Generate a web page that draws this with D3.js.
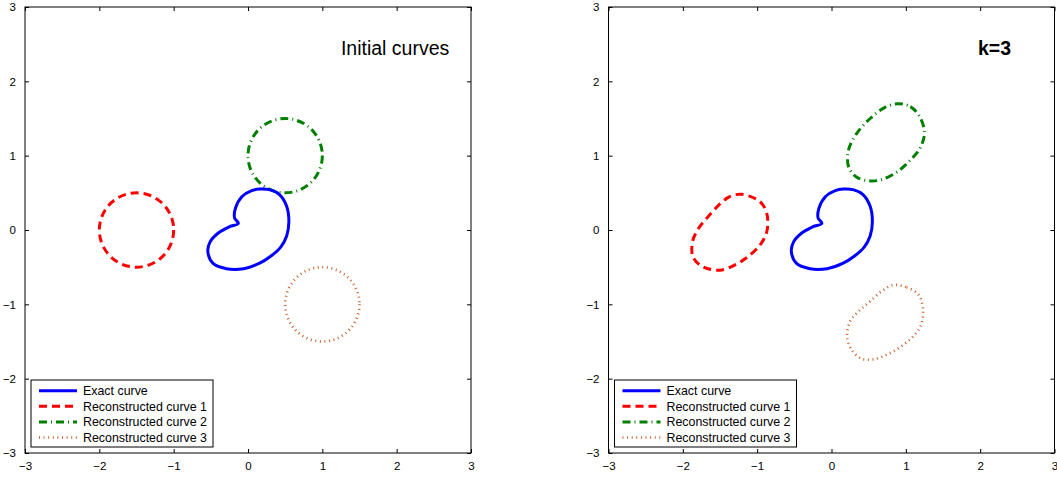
<!DOCTYPE html>
<html>
<head>
<meta charset="utf-8">
<script src="https://cdn.jsdelivr.net/npm/d3@7"></script>
<style>
  body { margin: 0; background: #fff; }
  svg { display: block; font-family: "Liberation Sans", Arial, sans-serif; }
</style>
</head>
<body>
<div id="chart"></div>
<script>
// axis ticks (both axes, both panels)
const ticks = [-3, -2, -1, 0, 1, 2, 3];

// exact curve (kidney shape)
const exactCurve = [
    [0.05, 0.53], [0.16, 0.55], [0.30, 0.54], [0.42, 0.48], [0.52, 0.32], [0.55, 0.11],
    [0.52, -0.08], [0.44, -0.23], [0.31, -0.35], [0.15, -0.45], [-0.06, -0.52], [-0.29, -0.52],
    [-0.47, -0.45], [-0.54, -0.29], [-0.51, -0.16], [-0.40, -0.04], [-0.26, 0.04],
    [-0.13, 0.09], [-0.18, 0.16], [-0.17, 0.29], [-0.08, 0.45]
];

// initial guesses: circles [cx, cy, r]
const initCurve1 = [-1.5, 0, 0.5];
const initCurve2 = [0.5, 1, 0.5];
const initCurve3 = [1, -1, 0.5];

// reconstructions after k=3
const reconCurve1 = [
    [-1.21, 0.48], [-0.96, 0.38], [-0.87, 0.22], [-0.87, -0.02], [-0.96, -0.20],
    [-1.14, -0.37], [-1.30, -0.47], [-1.50, -0.54], [-1.72, -0.50], [-1.86, -0.37],
    [-1.87, -0.16], [-1.79, 0.02], [-1.66, 0.18], [-1.50, 0.35], [-1.37, 0.45]
];
const reconCurve2 = [
    [0.90, 1.70], [1.06, 1.66], [1.19, 1.52], [1.25, 1.30], [1.19, 1.10], [1.06, 0.94],
    [0.88, 0.78], [0.68, 0.68], [0.52, 0.66], [0.34, 0.71], [0.23, 0.85], [0.23, 1.08],
    [0.34, 1.30], [0.52, 1.50], [0.72, 1.65]
];
const reconCurve3 = [
    [0.83, -0.74], [1.01, -0.77], [1.17, -0.87], [1.23, -1.05], [1.21, -1.26], [1.12, -1.41],
    [0.96, -1.55], [0.78, -1.66], [0.56, -1.74], [0.40, -1.73], [0.27, -1.61], [0.21, -1.44],
    [0.25, -1.23], [0.38, -1.08], [0.52, -0.96], [0.68, -0.82]
];

const legendLabels = ['Exact curve', 'Reconstructed curve 1', 'Reconstructed curve 2', 'Reconstructed curve 3'];

const styles = [
    { color: '#0000ff', width: 3, dash: null },
    { color: '#ff0000', width: 3, dash: '8,5' },
    { color: '#008000', width: 3, dash: '8,4,1,4' },
    { color: '#c8602e', width: 2.6, dash: '1,3.6' }
];

const svg = d3.select('#chart').append('svg')
    .attr('width', 1057)
    .attr('height', 479);

const panels = [
    { left: 25, title: 'Initial curves', bold: false, tx: 1.25, circles: [initCurve1, initCurve2, initCurve3] },
    { left: 608.5, title: 'k=3', bold: true, tx: 1.97, curves: [reconCurve1, reconCurve2, reconCurve3] }
];

const plotSize = 446;
const plotTop = 7;

panels.forEach(function (p) {
    const x = d3.scaleLinear().domain([-3, 3]).range([p.left, p.left + plotSize]);
    const y = d3.scaleLinear().domain([-3, 3]).range([plotTop + plotSize, plotTop]);
    const g = svg.append('g');

    // frame
    g.append('rect')
        .attr('x', x(-3)).attr('y', y(3))
        .attr('width', x(3) - x(-3)).attr('height', y(-3) - y(3))
        .attr('fill', 'none').attr('stroke', '#000').attr('stroke-width', 1);

    // axes with inward ticks
    const fmt = d3.format('d');
    const bottom = g.append('g').attr('transform', `translate(0,${y(-3)})`)
        .call(d3.axisBottom(x).tickValues(ticks).tickSizeInner(-4).tickSizeOuter(0).tickPadding(9).tickFormat(fmt));
    g.append('g').attr('transform', `translate(${x(-3)},0)`)
        .call(d3.axisLeft(y).tickValues(ticks).tickSizeInner(-4).tickSizeOuter(0).tickPadding(9).tickFormat(fmt));
    g.append('g').attr('transform', `translate(0,${y(3)})`)
        .call(d3.axisTop(x).tickValues(ticks).tickSizeInner(-4).tickSizeOuter(0).tickFormat(''));
    g.append('g').attr('transform', `translate(${x(3)},0)`)
        .call(d3.axisRight(y).tickValues(ticks).tickSizeInner(-4).tickSizeOuter(0).tickFormat(''));

    g.selectAll('.domain').remove();
    g.selectAll('.tick line').attr('stroke', '#000');
    g.selectAll('.tick text')
        .attr('fill', '#000')
        .style('font-size', '11.5px')
        .style('font-family', '"Liberation Sans", Arial, sans-serif');
    bottom.selectAll('.tick text').attr('dy', '0.71em');

    // title
    g.append('text')
        .attr('x', x(p.tx))
        .attr('y', y(2.36))
        .style('font-size', '19.5px')
        .style('font-weight', p.bold ? 'bold' : 'normal')
        .attr('fill', '#000')
        .text(p.title);

    const line = d3.line()
        .x(d => x(d[0]))
        .y(d => y(d[1]))
        .curve(d3.curveCatmullRomClosed.alpha(0.5));

    // reconstructed / initial curves
    if (p.circles) {
        p.circles.forEach(function (c, i) {
            const s = styles[i + 1];
            g.append('ellipse')
                .attr('cx', x(c[0])).attr('cy', y(c[1]))
                .attr('rx', x(c[0] + c[2]) - x(c[0]))
                .attr('ry', y(c[1] - c[2]) - y(c[1]))
                .attr('fill', 'none')
                .attr('stroke', s.color)
                .attr('stroke-width', s.width)
                .attr('stroke-dasharray', s.dash);
        });
    } else {
        p.curves.forEach(function (c, i) {
            const s = styles[i + 1];
            g.append('path')
                .datum(c)
                .attr('d', line)
                .attr('fill', 'none')
                .attr('stroke', s.color)
                .attr('stroke-width', s.width)
                .attr('stroke-dasharray', s.dash);
        });
    }

    // exact curve
    g.append('path')
        .datum(exactCurve)
        .attr('d', line)
        .attr('fill', 'none')
        .attr('stroke', styles[0].color)
        .attr('stroke-width', 3);

    // legend
    const lx = p.left + 6;
    const legend = g.append('g');
    legend.append('rect')
        .attr('x', lx).attr('y', 380)
        .attr('width', 182).attr('height', 67)
        .attr('fill', '#fff').attr('stroke', '#000').attr('stroke-width', 1);

    const rows = legend.selectAll('.row')
        .data(legendLabels)
        .enter().append('g')
        .attr('class', 'row')
        .attr('transform', (d, i) => `translate(${lx},${390.7 + i * 15.6})`);

    rows.append('line')
        .attr('x1', 8).attr('x2', 46)
        .attr('y1', 0).attr('y2', 0)
        .attr('stroke', (d, i) => styles[i].color)
        .attr('stroke-width', (d, i) => styles[i].width)
        .attr('stroke-dasharray', (d, i) => styles[i].dash);

    rows.append('text')
        .attr('x', 52)
        .attr('y', 0)
        .attr('dy', '0.35em')
        .style('font-size', '12.4px')
        .attr('fill', '#000')
        .text(d => d);
});
</script>
</body>
</html>
